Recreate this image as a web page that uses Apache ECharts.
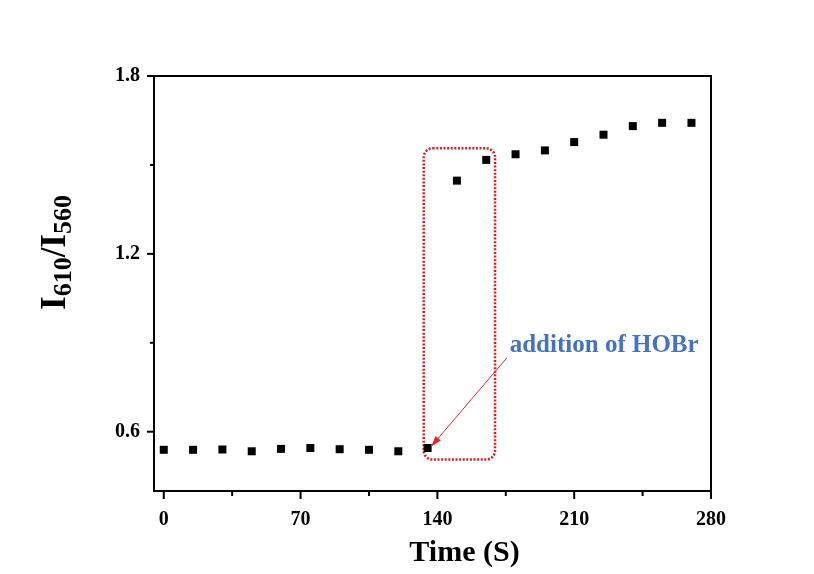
<!DOCTYPE html>
<html>
<head>
<meta charset="utf-8">
<script src="https://cdn.jsdelivr.net/npm/echarts@6/dist/echarts.min.js"></script>
<style>
  html, body { margin: 0; padding: 0; background: #fff; }
  #chart { width: 814px; height: 574px; }
</style>
</head>
<body>
<div id="chart"></div>
<script>
// measured data (time in s, ratio I610/I560)
const times = [0, 15, 30, 45, 60, 75, 90, 105, 120, 135, 150, 165, 180, 195, 210, 225, 240, 255, 270]
const ratios = [0.539, 0.539, 0.540, 0.534, 0.542, 0.545, 0.541, 0.539, 0.534, 0.545,
  1.447, 1.517, 1.536, 1.549, 1.577, 1.602, 1.631, 1.642, 1.642]

const xLabels = [0, 70, 140, 210, 280]
const xMinor = [35, 105, 175, 245]
const yLabels = [0.6, 1.2, 1.8]
const yMinor = [0.9, 1.5]

// annotation, in data units
const boxX = [133, 169.5]
const boxY = [0.506, 1.556]
const arrowFrom = [175.5, 0.849]
const arrowTo = [138.6, 0.564]
const notePos = [177, 0.889]

const serif = '"Liberation Serif", "Times New Roman", serif'
const chart = echarts.init(document.getElementById('chart'))

const xMin = -5, xMax = 280, yMin = 0.4, yMax = 1.8

chart.setOption({
  animation: false,
  backgroundColor: '#fff',
  grid: { left: 154, right: 103, top: 76, bottom: 83, show: true, borderColor: '#000', borderWidth: 2 },
  xAxis: {
    type: 'value', min: xMin, max: xMax, position: 'bottom',
    axisLine: { show: true, onZero: false, lineStyle: { color: '#000', width: 2 } },
    splitLine: { show: false },
    axisTick: { show: false },
    name: 'Time (S)', nameLocation: 'middle', nameGap: 47,
    nameTextStyle: { fontFamily: serif, fontWeight: 'bold', fontSize: 30, color: '#000', padding: [0, 0, 0, 64] },
    axisLabel: { customValues: xLabels, margin: 19, fontFamily: serif, fontWeight: 'bold', fontSize: 20, color: '#000' }
  },
  yAxis: {
    type: 'value', min: yMin, max: yMax, position: 'left',
    axisLine: { show: true, onZero: false, lineStyle: { color: '#000', width: 2 } },
    splitLine: { show: false },
    axisTick: { show: false },
    name: '{i|I}{s|610}{i|/I}{s|560}', nameLocation: 'middle', nameRotate: 90, nameGap: 80,
    nameTextStyle: {
      padding: [0, 0, 0, 62],
      rich: {
        i: { fontFamily: serif, fontWeight: 'bold', fontSize: 35, color: '#000', verticalAlign: 'top', lineHeight: 36 },
        s: { fontFamily: serif, fontWeight: 'bold', fontSize: 26, color: '#000', verticalAlign: 'top', lineHeight: 26, padding: [13, 0, 0, 0] }
      }
    },
    axisLabel: { customValues: yLabels, margin: 14, fontFamily: serif, fontWeight: 'bold', fontSize: 20, color: '#000',
      formatter: v => v.toFixed(1) }
  },
  series: [{
    type: 'scatter',
    symbol: 'rect', symbolSize: 8,
    itemStyle: { color: '#000', opacity: 1 },
    data: times.map((t, i) => [t, ratios[i]]),
    markLine: {
      silent: true, symbol: ['none', 'triangle'], symbolSize: [7, 11],
      lineStyle: { color: '#e8262b', width: 1, type: 'solid' },
      label: { show: false },
      data: [[{ coord: arrowFrom }, { coord: arrowTo }]]
    }
  }]
})

// ticks, dotted box and note are placed through the axes' own scales
const toPx = p => chart.convertToPixel({ gridIndex: 0 }, p)
const axisY = toPx([xMin, yMin])[1]
const axisX = toPx([xMin, yMin])[0]
const tick = (x1, y1, x2, y2) => ({
  type: 'line', silent: true, shape: { x1, y1, x2, y2 }, style: { stroke: '#000', lineWidth: 2 }
})
const ticks = [
  ...xLabels.map(v => { const x = toPx([v, yMin])[0]; return tick(x, axisY, x, axisY + 8) }),
  ...xMinor.map(v => { const x = toPx([v, yMin])[0]; return tick(x, axisY, x, axisY + 5) }),
  ...yLabels.map(v => { const y = toPx([xMin, v])[1]; return tick(axisX - 7, y, axisX, y) }),
  ...yMinor.map(v => { const y = toPx([xMin, v])[1]; return tick(axisX - 4, y, axisX, y) })
]

const p0 = toPx([boxX[0], boxY[1]])
const p1 = toPx([boxX[1], boxY[0]])
const pn = toPx(notePos)
chart.setOption({
  graphic: [...ticks, {
    type: 'rect', silent: true,
    shape: { x: p0[0], y: p0[1], width: p1[0] - p0[0], height: p1[1] - p0[1], r: 9 },
    style: { fill: 'none', stroke: '#dc1c24', lineWidth: 2.5, lineDash: [2, 1.6] }
  }, {
    type: 'text', silent: true, x: pn[0], y: pn[1],
    style: { text: 'addition of HOBr', fill: '#4472c4', font: 'bold 25px ' + serif, verticalAlign: 'middle', align: 'left' }
  }]
})
</script>
</body>
</html>
